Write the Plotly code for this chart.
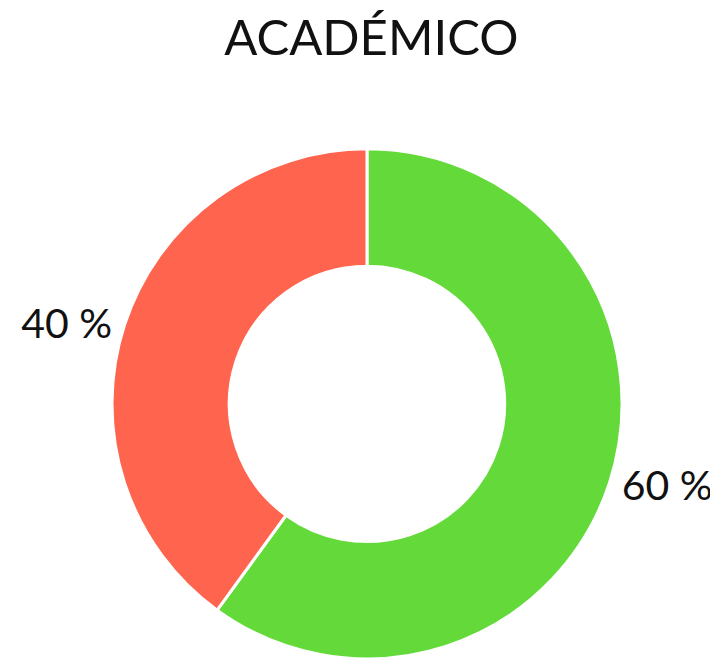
import plotly.graph_objects as go

labels = ["Sí", "No"]
values = [60, 40]
colors = ["#63DA39", "#FF644E"]

fig = go.Figure(go.Pie(
    labels=labels,
    values=values,
    hole=0.54,
    sort=False,
    direction="clockwise",
    rotation=0,
    marker=dict(colors=colors, line=dict(color="white", width=3)),
    texttemplate="%{value} %",
    textposition="outside",
    textfont=dict(family="Lato", size=41, color="#111111"),
    showlegend=False,
    domain=dict(x=[0, 1], y=[0, 0.795]),
    hoverinfo="label+value",
))

fig.update_layout(
    width=718, height=662,
    margin=dict(l=0, r=0, t=0, b=0),
    paper_bgcolor="white",
    title=dict(text="ACADÉMICO", x=0.506, xanchor="center", y=0.955, yanchor="middle",
               font=dict(family="Lato", size=49, color="#111111")),
)

fig.write_html("out.html")
